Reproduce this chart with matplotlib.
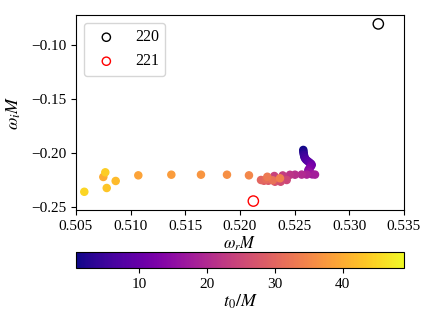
import matplotlib
matplotlib.use("Agg")
import matplotlib.pyplot as plt

plt.rcParams['font.family'] = ['Liberation Serif', 'DejaVu Serif']
plt.rcParams['mathtext.fontset'] = 'stix'
plt.rcParams['font.size'] = 11.5

# fitted frequencies as a function of start time t0
t0 = [1, 2, 3, 4, 5, 6, 7, 8, 9, 10, 11, 12, 13, 14, 15, 16, 17,
      18, 19, 20, 21, 22, 23, 24,
      25, 26, 27, 28, 29, 30, 31, 32,
      33, 34, 35, 36, 37, 38, 39,
      40, 42, 43, 44, 45]
omega_r = [0.52579, 0.52580, 0.52582, 0.52585, 0.52588, 0.52594, 0.52605, 0.52620,
           0.52636, 0.52650, 0.52656, 0.52648, 0.52636, 0.52625, 0.52632, 0.52645, 0.52660,
           0.52686, 0.52610, 0.52564, 0.52503, 0.52457, 0.52391, 0.52314,
           0.52427, 0.52372, 0.52320, 0.52259, 0.52219, 0.52192, 0.52240, 0.52300,
           0.52250, 0.52366, 0.52082, 0.51881, 0.51643, 0.51372, 0.51070,
           0.50750, 0.50863, 0.50781, 0.50768, 0.50576]
omega_i = [-0.1969, -0.1985, -0.2000, -0.2015, -0.2030, -0.2046, -0.2060, -0.2073,
           -0.2085, -0.2097, -0.2108, -0.2122, -0.2137, -0.2155, -0.2172, -0.2185, -0.2195,
           -0.2197, -0.2197, -0.2197, -0.2198, -0.2199, -0.2205, -0.2210,
           -0.2247, -0.2263, -0.2263, -0.2254, -0.2254, -0.2247, -0.2240, -0.2250,
           -0.2217, -0.2231, -0.2204, -0.2198, -0.2198, -0.2198, -0.2204,
           -0.2219, -0.2256, -0.2321, -0.2176, -0.2356]

# Kerr QNM values
qnm_220 = (0.53265, -0.0803)
qnm_221 = (0.52122, -0.2442)

fig = plt.figure(figsize=(4.36, 3.27), dpi=100)
ax = fig.add_axes([0.1743, 0.358, 0.7523, 0.596])

sc = ax.scatter(omega_r, omega_i, c=t0, cmap='plasma', s=26, vmin=0.75, vmax=49)
ax.scatter(*qnm_220, s=55, facecolors='none', edgecolors='k', linewidths=1, label='220')
ax.scatter(*qnm_221, s=55, facecolors='none', edgecolors='red', linewidths=1, label='221')

ax.set_xlim(0.505, 0.535)
ax.set_xticks([0.505, 0.510, 0.515, 0.520, 0.525, 0.530, 0.535])
ax.set_yticks([-0.10, -0.15, -0.20, -0.25])
ax.tick_params(labelsize=11)
ax.set_xlabel(r'$\omega_r M$', fontsize=12)
ax.xaxis.set_label_coords(0.5, -0.125)
ax.set_ylabel(r'$\omega_i M$', labelpad=6, fontsize=13)
ax.legend(loc='upper left', fontsize=11.5, markerscale=0.8)

cax = fig.add_axes([0.1743, 0.180, 0.7523, 0.049])
cb = fig.colorbar(sc, cax=cax, orientation='horizontal')
cb.set_ticks([10, 20, 30, 40])
cb.ax.tick_params(labelsize=11)
cb.set_label(r'$t_0/M$', labelpad=1, fontsize=13)

fig.savefig('out.png', dpi=100)
